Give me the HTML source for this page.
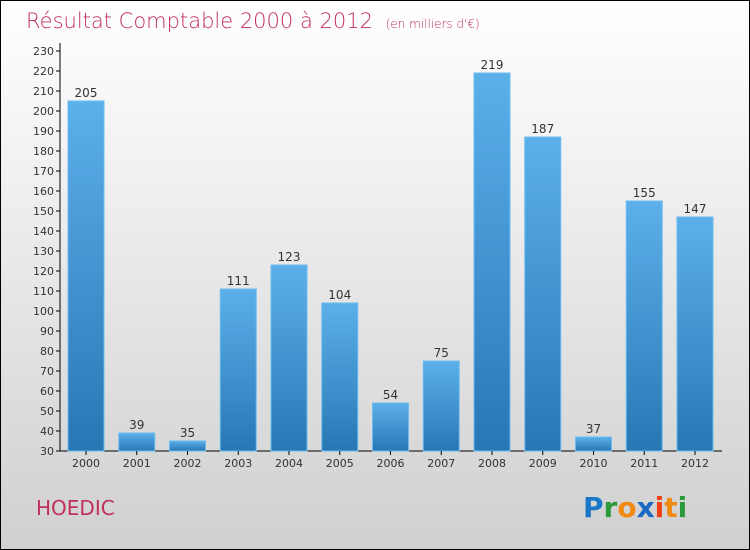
<!DOCTYPE html>
<html><head><meta charset="utf-8"><style>
body{margin:0}
#root{position:relative;width:748px;height:548px;border:1px solid #000;background:linear-gradient(#ffffff,#d0d0d0);font-family:"DejaVu Sans","Liberation Sans",sans-serif;overflow:hidden}
</style></head><body>
<div id="root">
<svg id="c" width="748" height="548">
<defs><linearGradient id="g" x1="0" y1="0" x2="0" y2="1"><stop offset="0" stop-color="#5cb0ea"/><stop offset="1" stop-color="#2877b5"/></linearGradient></defs>
<text x="25" y="27" font-size="21" fill="#c0305a" font-family="DejaVu Sans" font-weight="200">Résultat Comptable 2000 à 2012 <tspan font-size="12" dx="6">(en milliers d'€)</tspan></text>
<text x="35" y="514" font-size="20" fill="#c0305a">HOEDIC</text>
<g font-size="28" font-weight="bold" font-family="DejaVu Sans">
<text x="582" y="516"><tspan fill="#1a78c8">P</tspan><tspan fill="#2a9a3a">r</tspan><tspan fill="#f08a10">o</tspan><tspan fill="#1a68c0">x</tspan><tspan fill="#f04010">i</tspan><tspan fill="#f08a10">t</tspan><tspan fill="#2a9a3a">i</tspan></text>
</g>
<g id="plot"></g>
</svg>
</div>
<script>
const categories=["2000","2001","2002","2003","2004","2005","2006","2007","2008","2009","2010","2011","2012"];
const values=[205,39,35,111,123,104,54,75,219,187,37,155,147];
const yTicks=[30,40,50,60,70,80,90,100,110,120,130,140,150,160,170,180,190,200,210,220,230];
const NS="http://www.w3.org/2000/svg";
const p=document.getElementById('plot');
const y=v=>450-(v-30)*2;
const x=i=>67+i*50.75;
function mk(t,a){const e=document.createElementNS(NS,t);for(const k in a)e.setAttribute(k,a[k]);p.appendChild(e);return e;}
let ax=mk('line',{x1:59,y1:42,x2:59,y2:450,stroke:'#000','stroke-width':1});


let bx=mk('line',{x1:59,y1:450,x2:721,y2:450,stroke:'#000','stroke-width':1});


yTicks.forEach(v=>{
 let t=mk('line',{x1:55,y1:y(v),x2:59,y2:y(v),stroke:'#000'});
 
 
 let l=mk('text',{x:53,y:y(v)+4,'text-anchor':'end','font-size':11,fill:'#333'});
 l.textContent=v;
 
 
});
categories.forEach((c,i)=>{
 const v=values[i];
 let r=mk('rect',{x:x(i),y:y(v),width:36,height:450-y(v),fill:'url(#g)',stroke:'#6cbcf0','stroke-width':1});
 
 
 let t=mk('line',{x1:x(i)+18,y1:450,x2:x(i)+18,y2:454,stroke:'#000'});
 
 
 let l=mk('text',{x:x(i)+18,y:466,'text-anchor':'middle','font-size':11,fill:'#333'});
 l.textContent=c;
 
 
 let vl=mk('text',{x:x(i)+18,y:y(v)-4,'text-anchor':'middle','font-size':12,fill:'#333'});
 vl.textContent=v;
 
 
});
</script>
</body></html>
